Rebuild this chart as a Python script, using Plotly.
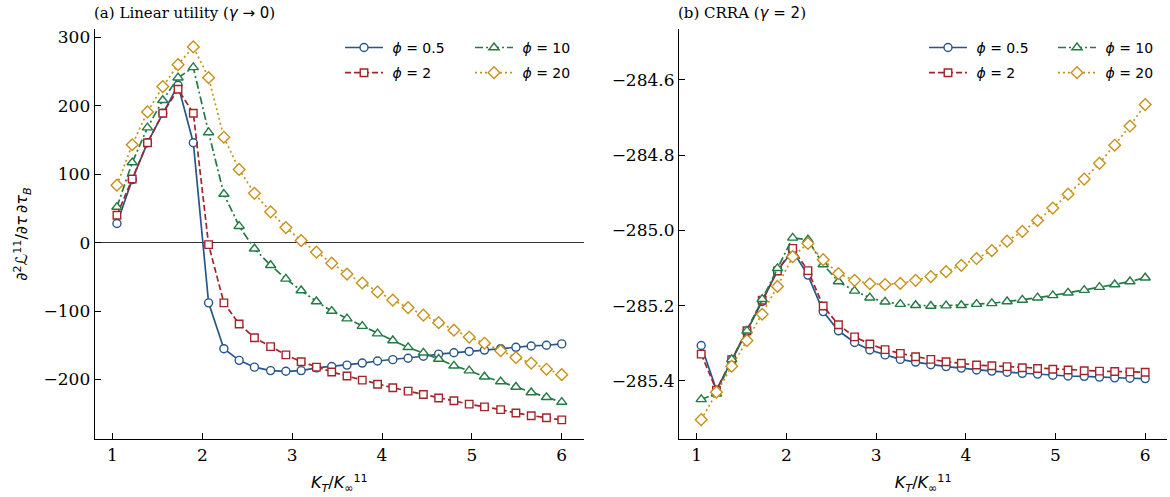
import plotly.graph_objects as go

# ---------------- data ----------------
x_vals = [1.05, 1.22, 1.39, 1.56, 1.73, 1.90, 2.07, 2.24, 2.41, 2.58,
          2.76, 2.93, 3.10, 3.27, 3.44, 3.61, 3.78, 3.95, 4.12, 4.29,
          4.46, 4.63, 4.80, 4.97, 5.14, 5.32, 5.49, 5.66, 5.83, 6.00]

phi_labels = ["0.5", "2", "10", "20"]

lin_phi05 = [28, 92, 146, 189, 230, 146, -88, -155, -172, -182, -187, -188, -187, -183, -181,
             -179, -176, -173, -171, -169, -166, -163, -161, -159, -157, -155, -153, -151, -150, -148]
lin_phi2 = [40, 93, 146, 189, 224, 189, -3, -88, -119, -139, -152, -164, -174, -182, -189,
            -195, -201, -207, -212, -217, -222, -227, -231, -236, -240, -244, -249, -253, -256, -259]
lin_phi10 = [52, 117, 168, 208, 241, 256, 161, 71, 24, -9, -33, -53, -70, -86, -100,
             -111, -122, -133, -143, -153, -161, -170, -180, -187, -196, -203, -211, -219, -226, -233]
lin_phi20 = [84, 143, 191, 228, 260, 286, 241, 154, 107, 72, 45, 22, 3, -14, -30,
             -46, -59, -72, -84, -95, -106, -117, -128, -138, -147, -158, -168, -176, -185, -193]

crra_phi05 = [-285.306, -285.424, -285.346, -285.269, -285.189, -285.107, -285.055, -285.119, -285.216, -285.267,
              -285.298, -285.318, -285.331, -285.343, -285.350, -285.357, -285.362, -285.366, -285.371, -285.374,
              -285.377, -285.380, -285.382, -285.385, -285.387, -285.388, -285.390, -285.392, -285.393, -285.394]
crra_phi2 = [-285.329, -285.425, -285.344, -285.267, -285.186, -285.108, -285.048, -285.107, -285.201, -285.251,
             -285.283, -285.302, -285.317, -285.327, -285.336, -285.343, -285.349, -285.353, -285.358, -285.360,
             -285.362, -285.365, -285.367, -285.369, -285.371, -285.373, -285.374, -285.375, -285.376, -285.377]
crra_phi10 = [-285.449, -285.434, -285.343, -285.267, -285.183, -285.101, -285.020, -285.025, -285.091, -285.136,
              -285.161, -285.179, -285.190, -285.196, -285.199, -285.201, -285.200, -285.199, -285.196, -285.194,
              -285.189, -285.185, -285.179, -285.173, -285.166, -285.159, -285.151, -285.144, -285.136, -285.126]
crra_phi20 = [-285.503, -285.430, -285.361, -285.293, -285.223, -285.149, -285.070, -285.035, -285.078, -285.115,
              -285.133, -285.142, -285.144, -285.141, -285.133, -285.123, -285.110, -285.093, -285.075, -285.054,
              -285.029, -285.003, -284.974, -284.941, -284.904, -284.864, -284.822, -284.774, -284.723, -284.666]

x_ticks = [1, 2, 3, 4, 5, 6]
lin_yticks = [300, 200, 100, 0, -100, -200]
lin_yticklabels = ["300", "200", "100", "0", "\u2212100", "\u2212200"]
crra_yticks = [-284.6, -284.8, -285.0, -285.2, -285.4]
crra_yticklabels = ["\u2212284.6", "\u2212284.8", "\u2212285.0", "\u2212285.2", "\u2212285.4"]

# ---------------- styles ----------------
colors = ["#27568a", "#a1252b", "#237a45", "#c8921a"]
symbols = ["circle", "square", "triangle-up", "diamond"]
dashes = ["solid", "6px,3px", "8px,3px,2px,3px", "2px,3px"]
msize = [8, 7.5, 9, 9]

fig = go.Figure()

panels = [
    ("x", "y", "a", [lin_phi05, lin_phi2, lin_phi10, lin_phi20], ["legend", "legend", "legend2", "legend2"]),
    ("x2", "y2", "b", [crra_phi05, crra_phi2, crra_phi10, crra_phi20], ["legend3", "legend3", "legend4", "legend4"]),
]
for xa, ya, tag, series, legs in panels:
    for k in range(4):
        fig.add_trace(go.Scatter(
            x=x_vals, y=series[k], xaxis=xa, yaxis=ya,
            mode="lines+markers",
            name="\u00a0<i>\u03d5</i> = " + phi_labels[k],
            legend=legs[k], legendgroup=tag + str(k),
            line=dict(color=colors[k], width=1.7, dash=dashes[k]),
            marker=dict(symbol=symbols[k], size=msize[k], color="white",
                        line=dict(color=colors[k], width=1.4)),
        ))

W, H = 1170, 497
top, bottom = 27, 439
ydom = [1 - bottom / H, 1 - top / H]
xdom1 = [94.7 / W, 584 / W]
xdom2 = [679 / W, 1167.4 / W]

tickfont = dict(family="DejaVu Serif", size=17, color="black")
axis_common = dict(showline=True, linecolor="black", linewidth=1.1, mirror=False,
                   ticks="inside", ticklen=6, tickwidth=1.1, tickcolor="black",
                   showgrid=False, tickfont=tickfont)

xtitle = "<i>K</i><sub><i>T</i></sub>/<i>K</i><sub>\u221e</sub><sup>11</sup>"
ytitle = "\u2202<sup>2</sup><i>\u2112</i><sup>11</sup>/\u2202<i>\u03c4</i>\u2009\u2202<i>\u03c4</i><sub><i>B</i></sub>"
atfont = dict(family="DejaVu Sans", size=16, color="black")

fig.update_layout(
    width=W, height=H,
    margin=dict(l=0, r=0, t=0, b=0),
    paper_bgcolor="white", plot_bgcolor="white",
    xaxis=dict(domain=xdom1, range=[0.8025, 6.2475], tickvals=x_ticks, anchor="y",
               title=dict(text=xtitle, font=atfont, standoff=13), **axis_common),
    yaxis=dict(domain=ydom, range=[-287.3, 312.3], tickvals=lin_yticks, ticktext=lin_yticklabels,
               anchor="x", zeroline=True, zerolinecolor="#333333", zerolinewidth=1,
               title=dict(text=ytitle, font=atfont, standoff=11), **axis_common),
    xaxis2=dict(domain=xdom2, range=[0.8025, 6.2475], tickvals=x_ticks, anchor="y2",
                title=dict(text=xtitle, font=atfont, standoff=13), **axis_common),
    yaxis2=dict(domain=ydom, range=[-285.555, -284.465], tickvals=crra_yticks, ticktext=crra_yticklabels,
                anchor="x2", zeroline=False, **axis_common),
    showlegend=True,
)

legfont = dict(family="DejaVu Sans", size=14, color="black")
leg_common = dict(font=legfont, bgcolor="rgba(0,0,0,0)", borderwidth=0, itemwidth=38,
                  orientation="v", xanchor="left", yanchor="top", tracegroupgap=4,
                  traceorder="grouped")
fig.update_layout(
    legend=dict(x=340 / W, y=1 - 30 / H, **leg_common),
    legend2=dict(x=470 / W, y=1 - 30 / H, **leg_common),
    legend3=dict(x=924 / W, y=1 - 30 / H, **leg_common),
    legend4=dict(x=1053 / W, y=1 - 30 / H, **leg_common),
)

titlefont = dict(family="DejaVu Serif", size=15, color="black")
fig.add_annotation(text="(a) Linear utility (<span style='font-family:DejaVu Sans'><i>\u03b3</i> \u2192 0</span>)",
                   xref="paper", yref="paper", x=92 / W, y=1 - 11 / H, xanchor="left", yanchor="middle",
                   showarrow=False, font=titlefont)
fig.add_annotation(text="(b) CRRA (<span style='font-family:DejaVu Sans'><i>\u03b3</i> = 2</span>)",
                   xref="paper", yref="paper", x=676 / W, y=1 - 11 / H, xanchor="left", yanchor="middle",
                   showarrow=False, font=titlefont)

fig.write_html("out.html", config={"displayModeBar": False},
               post_script="document.body.style.margin='0px';")
